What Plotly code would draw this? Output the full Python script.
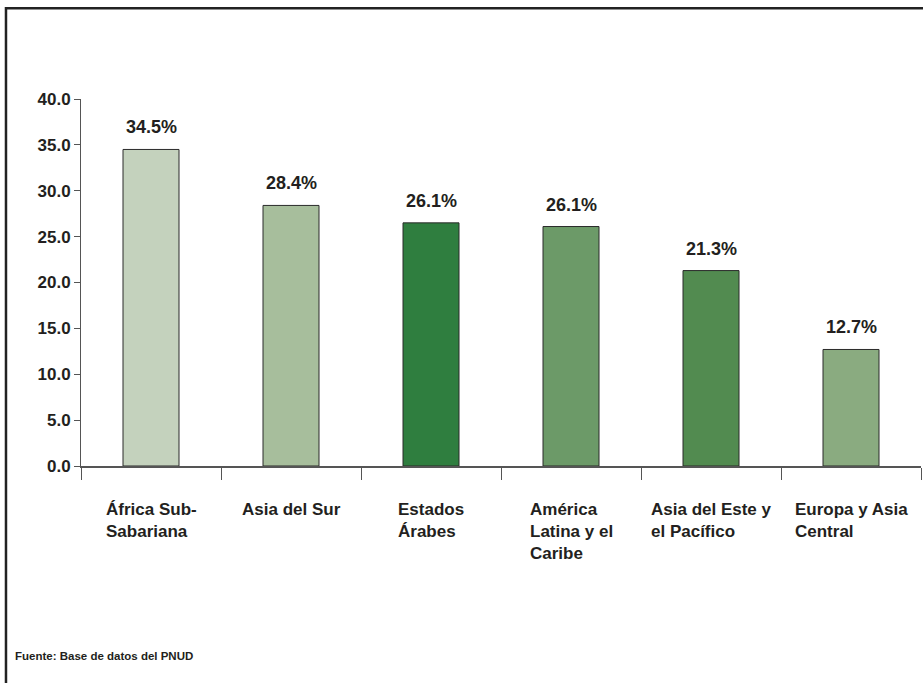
import plotly.graph_objects as go

categories = ["África Sub-Sabariana", "Asia del Sur", "Estados Árabes",
              "América Latina y el Caribe", "Asia del Este y el Pacífico",
              "Europa y Asia Central"]
category_labels = ["África Sub-<br>Sabariana", "Asia del Sur", "Estados<br>Árabes",
                   "América<br>Latina y el<br>Caribe", "Asia del Este y<br>el Pacífico",
                   "Europa y Asia<br>Central"]
values = [34.5, 28.4, 26.5, 26.1, 21.3, 12.7]
value_labels = ["34.5%", "28.4%", "26.1%", "26.1%", "21.3%", "12.7%"]
bar_colors = ["#c4d2bd", "#a7be9c", "#2f7e3f", "#6c9a68", "#528b50", "#8aab80"]
y_ticks = [0, 5, 10, 15, 20, 25, 30, 35, 40]
footnote = "Fuente: Base de datos del PNUD"

FONT = "Liberation Sans, Arial, sans-serif"
TXT = "#231f20"

fig = go.Figure()
fig.add_trace(go.Bar(
    x=categories, y=values, width=0.4,
    marker=dict(color=bar_colors, line=dict(color="#2a2a2a", width=1)),
    hoverinfo="skip",
))

annotations = []
for c, v, lab in zip(categories, values, value_labels):
    annotations.append(dict(x=c, y=v, xref="x", yref="y", text=lab, showarrow=False,
                            yanchor="middle", yshift=22,
                            font=dict(family=FONT, size=18, color=TXT, weight="bold")))
for c, lab in zip(categories, category_labels):
    annotations.append(dict(x=c, y=0, xref="x", yref="y", text=lab, showarrow=False,
                            xanchor="center", yanchor="top", align="left", yshift=-32,
                            font=dict(family=FONT, size=17, color=TXT, weight="bold")))
annotations.append(dict(x=-0.081, y=-0.518, xref="paper", yref="paper", text=footnote,
                        showarrow=False, xanchor="left", yanchor="middle",
                        font=dict(family=FONT, size=11.5, color=TXT, weight="bold")))

fig.update_layout(
    width=923, height=683,
    margin=dict(l=81, r=2, t=99, b=217),
    paper_bgcolor="white", plot_bgcolor="white",
    showlegend=False,
    annotations=annotations,
    shapes=[dict(type="rect", xref="paper", yref="paper",
                 x0=-0.0893, x1=1.02, y0=-0.62, y1=1.2476,
                 line=dict(color="#222222", width=2.5), fillcolor="rgba(0,0,0,0)",
                 layer="above")],
    xaxis=dict(type="category", range=[-0.5, 5.5], showticklabels=False,
               ticks="outside", tickson="boundaries", ticklen=12, tickcolor="#555555",
               showline=True, linecolor="#555555", linewidth=1.5, showgrid=False,
               zeroline=False),
    yaxis=dict(range=[0, 40], tickvals=y_ticks, tickformat=".1f",
               ticks="outside", ticklen=6, tickcolor="#555555",
               showline=True, linecolor="#555555", linewidth=1, showgrid=False,
               zeroline=False,
               tickfont=dict(family=FONT, size=17, color=TXT, weight="bold")),
)

fig.write_html("out.html", config={"displayModeBar": False},
               post_script="document.body.style.margin='0px';document.body.style.overflow='hidden';")
